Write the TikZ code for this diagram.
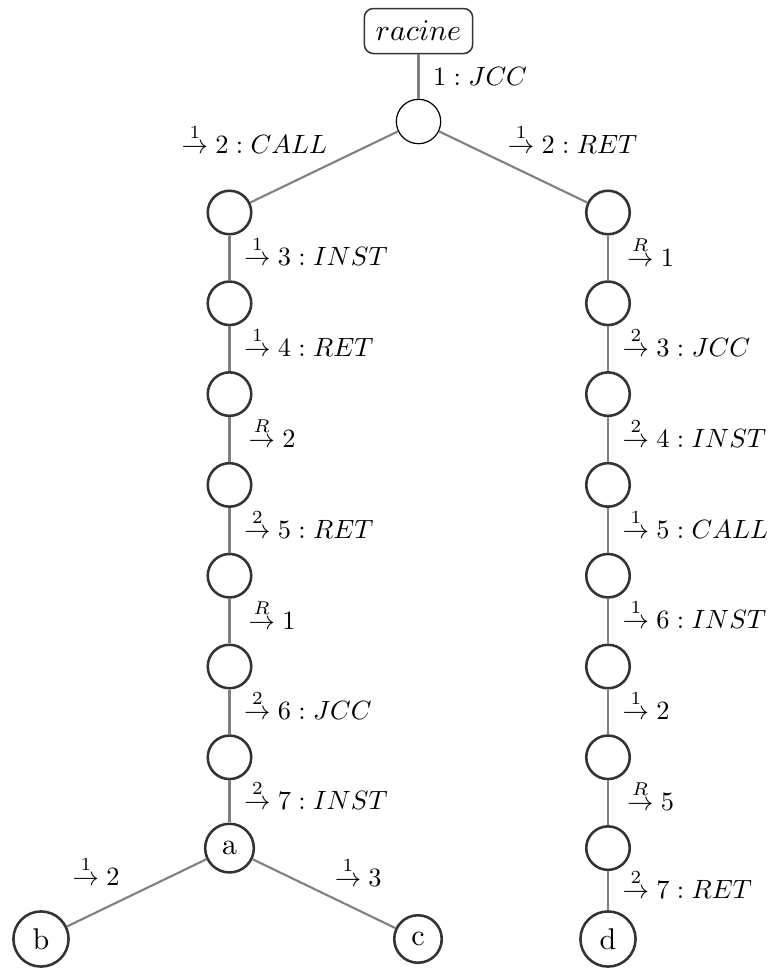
\documentclass[tikz,border=0pt]{standalone}
\usepackage{amsmath}
\usepackage{graphicx}
\newcommand{\lt}[1]{\scalebox{0.88}{$#1$}}
\begin{document}
\begin{tikzpicture}[x=0.3333pt,y=-0.3333pt,
  st/.style={circle,draw=black!80,line width=0.85pt,minimum size=14.5pt},
  rootst/.style={circle,draw=black,line width=0.4pt,minimum size=14.8pt},
  boxst/.style={draw=black!80,line width=0.5pt,rounded corners=3pt,minimum height=15pt,inner xsep=3.8pt},
  ed/.style={draw=black!50,line width=0.7pt},
  lfont/.style={inner sep=2.93pt},
  lbl/.style={lfont,right,xshift=1.6pt,yshift=2.3pt},
  plainlbl/.style={lfont,right,xshift=1.6pt}]
\useasboundingbox (0,0) rectangle (768,969);
% nodes
\node[boxst] (racine) at (418.5,31) {$racine$};
\node[rootst] (root) at (418.5,121.5) {};
\foreach \i/\y in {1/212.5,2/303.3,3/394.1,4/484.9,5/575.7,6/666.5,7/757.3}{
  \node[st] (L\i) at (229.5,\y) {};
}
\foreach \i/\y in {1/212.5,2/303.3,3/394.1,4/484.9,5/575.7,6/666.5,7/757.3,8/848.1}{
  \node[st] (R\i) at (608,\y) {};
}
\node[st] (a) at (229.5,848.1) {a};
\node[st] (b) at (41,939) {b};
\node[st] (c) at (418,939) {c};
\node[st] (d) at (608,939) {d};
% edges
\path[ed] (racine) -- node[plainlbl] {\lt{1 : JCC}} (root);
\path[ed] (root) -- node[lfont,anchor=south east,xshift=4.3pt,yshift=1.3pt] {\lt{\stackrel{1}{\to} 2 : CALL}} (L1);
\path[ed] (root) -- node[lfont,anchor=south west,xshift=-5pt,yshift=1.3pt] {\lt{\stackrel{1}{\to} 2 : RET}} (R1);
% left chain
\path[ed] (L1) -- node[lbl] {\lt{\stackrel{1}{\to} 3 : INST}} (L2);
\path[ed] (L2) -- node[lbl] {\lt{\stackrel{1}{\to} 4 : RET}} (L3);
\path[ed] (L3) -- node[lbl] {\lt{\,\stackrel{R}{\to} 2}} (L4);
\path[ed] (L4) -- node[lbl] {\lt{\stackrel{2}{\to} 5 : RET}} (L5);
\path[ed] (L5) -- node[lbl] {\lt{\,\stackrel{R}{\to} 1}} (L6);
\path[ed] (L6) -- node[lbl] {\lt{\stackrel{2}{\to} 6 : JCC}} (L7);
\path[ed] (L7) -- node[lbl] {\lt{\stackrel{2}{\to} 7 : INST}} (a);
\path[ed] (a) -- node[lfont,anchor=south east,xshift=-2.4pt,yshift=-0.8pt] {\lt{\stackrel{1}{\to} 2}} (b);
\path[ed] (a) -- node[lfont,anchor=south west,xshift=0.3pt,yshift=-0.8pt] {\lt{\stackrel{1}{\to} 3}} (c);
% right chain
\path[ed] (R1) -- node[lbl] {\lt{\,\stackrel{R}{\to} 1}} (R2);
\path[ed] (R2) -- node[lbl] {\lt{\stackrel{2}{\to} 3 : JCC}} (R3);
\path[ed] (R3) -- node[lbl] {\lt{\stackrel{2}{\to} 4 : INST}} (R4);
\path[ed] (R4) -- node[lbl] {\lt{\stackrel{1}{\to} 5 : CALL}} (R5);
\path[ed] (R5) -- node[lbl] {\lt{\stackrel{1}{\to} 6 : INST}} (R6);
\path[ed] (R6) -- node[lbl] {\lt{\stackrel{1}{\to} 2}} (R7);
\path[ed] (R7) -- node[lbl] {\lt{\,\stackrel{R}{\to} 5}} (R8);
\path[ed] (R8) -- node[lbl] {\lt{\stackrel{2}{\to} 7 : RET}} (d);
\end{tikzpicture}
\end{document}
